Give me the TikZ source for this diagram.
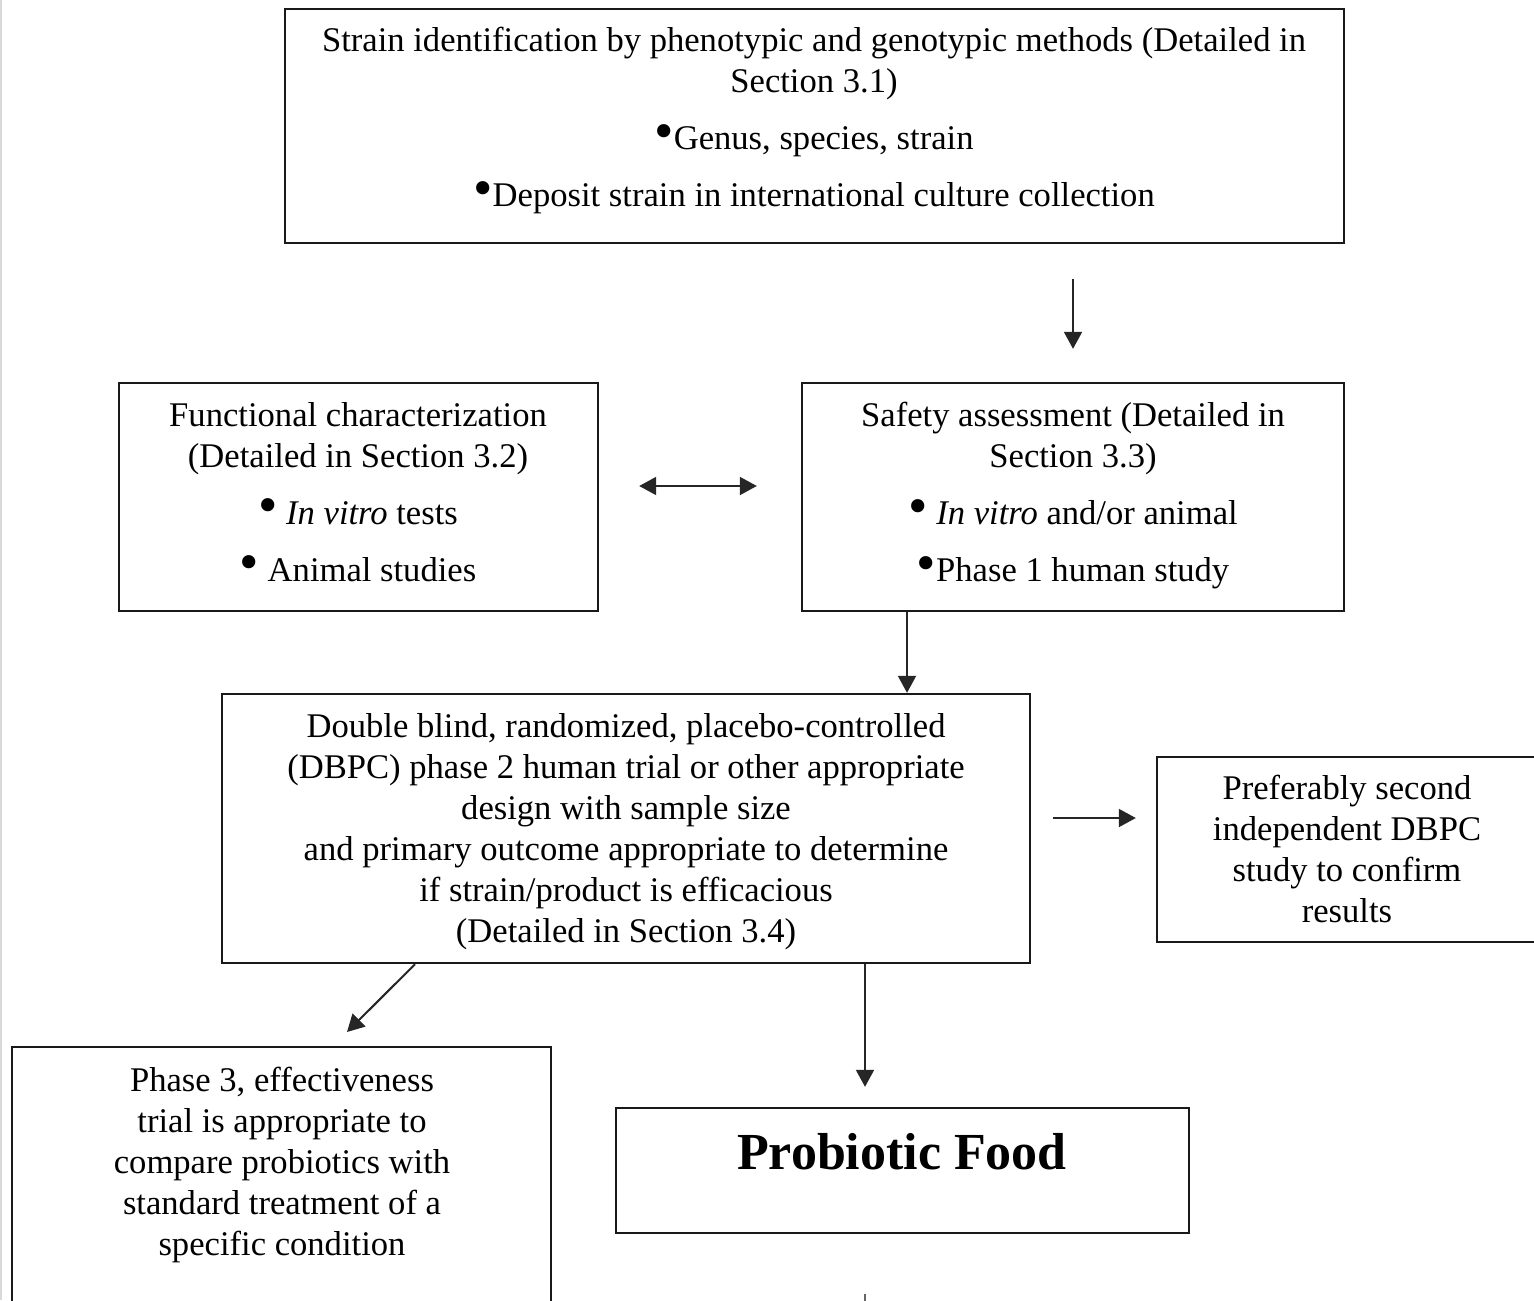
\documentclass[tikz,border=0pt]{standalone}
\usepackage{fontspec}
\setmainfont{Liberation Serif}
\usetikzlibrary{arrows.meta,fit}
\newcommand{\bul}{\raisebox{0.05ex}{\scalebox{1.6}{\textbullet}}}
\begin{document}
\begin{tikzpicture}[x=0.5pt,y=-0.5pt,
  box/.style={draw=black!90, line width=1.2pt, inner sep=0pt},
  txt/.style={align=center, inner sep=0pt, text=black, font=\fontsize{17.3pt}{20.5pt}\selectfont},
  bigtxt/.style={align=center, inner sep=0pt, text=black, font=\fontsize{26pt}{30pt}\selectfont\bfseries},
  arr/.style={draw=black!85, line width=1pt, -{Triangle[length=8.5pt,width=9pt]}},
  dblarr/.style={draw=black!85, line width=1pt, {Triangle[length=8.5pt,width=9pt]}-{Triangle[length=8.5pt,width=9pt]}},
  plain/.style={draw=black!60, line width=1pt}
]
\useasboundingbox (0,0) rectangle (1534,1300);
\clip (0,0) rectangle (1534,1300);
\fill[white] (0,0) rectangle (1534,1300);
\draw[black!15, line width=0.6pt] (1,0) -- (1,1300);

% boxes
\node[box, fit={(285,9) (1344,243)}] (top) {};
\node[box, fit={(119,383) (598,611)}] (func) {};
\node[box, fit={(802,383) (1344,611)}] (safe) {};
\node[box, fit={(222,694) (1030,963)}] (dbpc) {};
\node[box, fit={(1157,757) (1540,942)}] (pref) {};
\node[box, fit={(12,1047) (551,1330)}] (phase) {};
\node[box, fit={(616,1108) (1189,1233)}] (food) {};

% texts
\node[txt] (toptxt) at (814,121) {Strain identification by phenotypic and genotypic methods (Detailed in\\ Section 3.1)\\[8pt] \bul Genus, species, strain\\[8pt] \bul Deposit strain in international culture collection};
\node[txt] (functxt) at (358,492) {Functional characterization\\ (Detailed in Section 3.2)\\[8pt] \bul\ \textit{In vitro} tests\\[8pt] \bul\ Animal studies};
\node[txt] (safetxt) at (1073,496) {Safety assessment (Detailed in\\ Section 3.3)\\[8pt] \bul\ \textit{In vitro} and/or animal\\[8pt] \bul Phase 1 human study};
\node[txt] (dbpctxt) at (626,832) {Double blind, randomized, placebo-controlled\\ (DBPC) phase 2 human trial or other appropriate\\ design with sample size\\ and primary outcome appropriate to determine\\ if strain/product is efficacious\\ (Detailed in Section 3.4)};
\node[txt] (preftxt) at (1347,849) {Preferably second\\ independent DBPC\\ study to confirm\\ results};
\node[txt] (phasetxt) at (282,1165) {Phase 3, effectiveness\\ trial is appropriate to\\ compare probiotics with\\ standard treatment of a\\ specific condition};
\node[bigtxt] (foodtxt) at (902,1152) {Probiotic Food};

% helper coordinates
\coordinate (xa) at (1073,0);
\coordinate (ya) at (0,486);
\coordinate (xb) at (907,0);
\coordinate (yc) at (0,818);
\coordinate (xd) at (415,0);
\coordinate (p3tip) at (347,1032);
\coordinate (xe) at (865,0);

% connectors
\draw[arr, shorten <=17.5pt, shorten >=16.5pt] (top.south -| xa) -- (safe.north -| xa);
\draw[dblarr, shorten <=20pt, shorten >=22pt] (func.east |- ya) -- (safe.west |- ya);
\draw[arr] (safe.south -| xb) -- (dbpc.north -| xb);
\draw[arr, shorten <=11pt, shorten >=10pt] (dbpc.east |- yc) -- (pref.west |- yc);
\draw[arr] (dbpc.south -| xd) -- (p3tip);
\draw[arr, shorten >=10pt] (dbpc.south -| xe) -- (food.north -| xe);
\draw[plain, shorten <=30pt] (food.south -| xe) -- ++(0,80);
\end{tikzpicture}
\end{document}
